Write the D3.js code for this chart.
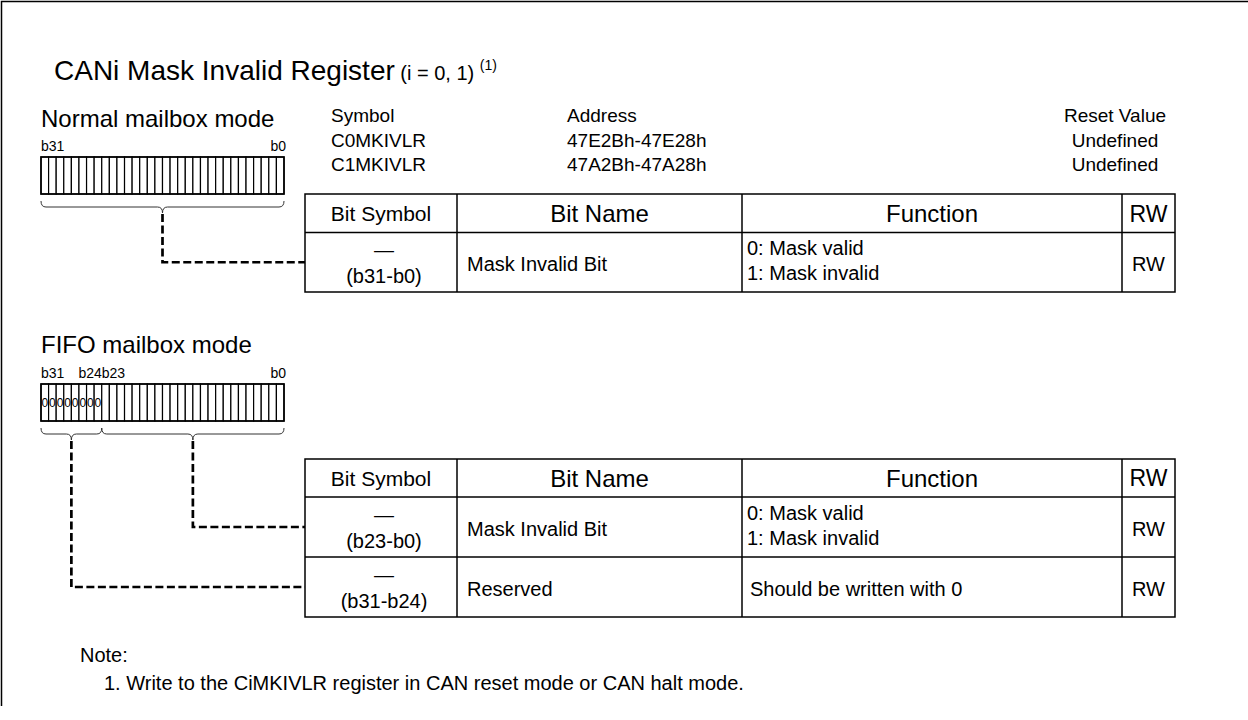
<!DOCTYPE html>
<html><head><meta charset="utf-8">
<script src="https://cdn.jsdelivr.net/npm/d3@7"></script>
<style>
html,body{margin:0;padding:0;background:#fff;}
svg text{font-family:"Liberation Sans",Arial,Helvetica,sans-serif;fill:#000;}
</style></head>
<body><svg id="c" width="1248" height="720"></svg>
<script>
// ---- data ----
const titleMain = "CANi Mask Invalid Register";
const titleSub = "(i = 0, 1)";
const titleNote = "(1)";
const infoHeaders = ["Symbol", "Address", "Reset Value"];
const registerSymbols = ["C0MKIVLR", "C1MKIVLR"];
const registerAddresses = ["47E2Bh-47E28h", "47A2Bh-47A28h"];
const resetValues = ["Undefined", "Undefined"];
const bitIndices = d3.range(31, -1, -1); // b31 .. b0
const reservedBits = d3.range(31, 23, -1); // b31 .. b24
const tableHeaders = ["Bit Symbol", "Bit Name", "Function", "RW"];
const normalRows = [
  {sym: "—", range: "(b31-b0)", name: "Mask Invalid Bit", func: ["0: Mask valid", "1: Mask invalid"], rw: "RW", hi: 31, lo: 0}
];
const fifoRows = [
  {sym: "—", range: "(b23-b0)", name: "Mask Invalid Bit", func: ["0: Mask valid", "1: Mask invalid"], rw: "RW", hi: 23, lo: 0},
  {sym: "—", range: "(b31-b24)", name: "Reserved", func: ["Should be written with 0"], rw: "RW", hi: 31, lo: 24}
];
const noteLines = ["Note:", "1. Write to the CiMKIVLR register in CAN reset mode or CAN halt mode."];

// ---- layout ----
const svg = d3.select("#c");

// frame
svg.append("path").attr("d","M1.5,706 L1.5,1.5 L1248,1.5").attr("fill","none").attr("stroke","#000").attr("stroke-width",1.5);

// title
const t = svg.append("text").attr("x",54).attr("y",80);
t.append("tspan").attr("font-size",28).text(titleMain);
t.append("tspan").attr("font-size",20).text(" " + titleSub + " ");
t.append("tspan").attr("font-size",14).attr("dy",-10).text(titleNote);

// info block
const infoX = d3.scaleOrdinal().domain(infoHeaders).range([331, 567, 1115]);
const infoY = d3.scaleLinear().domain([0, 2]).range([122, 171]);
infoHeaders.forEach((h, i) => {
  svg.append("text").attr("x", infoX(h)).attr("y", infoY(0)).attr("font-size",19)
    .attr("text-anchor", i === 2 ? "middle" : "start").text(h);
});
[registerSymbols, registerAddresses, resetValues].forEach((col, ci) => {
  col.forEach((v, r) => {
    svg.append("text").attr("x", infoX(infoHeaders[ci])).attr("y", infoY(r + 1)).attr("font-size",19)
      .attr("text-anchor", ci === 2 ? "middle" : "start").text(v);
  });
});

// bit box scale
const bitX = d3.scaleBand().domain(bitIndices).range([41, 284]);

function drawBitBox(label, yLabel, yBox, withReserved) {
  svg.append("text").attr("x",41).attr("y",yLabel).attr("font-size",24).text(label);
  const g = svg.append("g");
  const h = 37;
  g.selectAll("rect").data(bitIndices).join("rect")
    .attr("x", d => bitX(d)).attr("y", yBox).attr("width", bitX.bandwidth()).attr("height", h)
    .attr("fill","#fff").attr("stroke","#000").attr("stroke-width",1.2);
  g.append("rect").attr("x",bitX(31)).attr("y",yBox).attr("width",bitX(0)+bitX.bandwidth()-bitX(31)).attr("height",h)
    .attr("fill","none").attr("stroke","#000").attr("stroke-width",1.6);
  const yl = yBox - 6;
  g.append("text").attr("x",bitX(31)).attr("y",yl).attr("font-size",14).text("b31");
  g.append("text").attr("x",bitX(0)+bitX.bandwidth()+2).attr("y",yl).attr("font-size",14).attr("text-anchor","end").text("b0");
  if (withReserved) {
    g.append("text").attr("x",bitX(24)+bitX.bandwidth()).attr("y",yl).attr("font-size",14).attr("text-anchor","end").text("b24");
    g.append("text").attr("x",bitX(23)).attr("y",yl).attr("font-size",14).text("b23");
    g.selectAll("text.z").data(reservedBits).join("text").attr("class","z")
      .attr("x", d => bitX(d) + bitX.bandwidth()/2).attr("y", yBox + h/2 + 4.5)
      .attr("font-size",12).attr("text-anchor","middle").text("0");
  }
}

function brace(x0, x1, y) {
  const xc = (x0 + x1) / 2, r = 5, d = 6;
  const p = `M${x0},${y} Q${x0},${y+d} ${x0+r},${y+d} L${xc-r},${y+d} Q${xc},${y+d} ${xc},${y+2*d} Q${xc},${y+d} ${xc+r},${y+d} L${x1-r},${y+d} Q${x1},${y+d} ${x1},${y}`;
  svg.append("path").attr("d",p).attr("fill","none").attr("stroke","#333").attr("stroke-width",1);
  return {x: xc, y: y + 2*d};
}

function dashed(x, y0, y1, x1) {
  svg.append("path").attr("d",`M${x},${y0} L${x},${y1} L${x1},${y1}`)
    .attr("fill","none").attr("stroke","#000").attr("stroke-width",2.7).attr("stroke-dasharray","8,3.5");
}

// table
const colX = d3.scaleOrdinal().domain(tableHeaders).range([305, 457, 742, 1122]);
const tableRight = 1175;
const colW = h => { const i = tableHeaders.indexOf(h); return (i < 3 ? colX(tableHeaders[i+1]) : tableRight) - colX(h); };
const headerSize = {"Bit Symbol": 21, "Bit Name": 24, "Function": 24, "RW": 23};
const BODY = 20;

function drawTable(rows, yTop, headH, rowH) {
  const yRow = d3.scaleLinear().domain([0, rows.length]).range([yTop + headH, yTop + headH + rows.length*rowH]);
  const g = svg.append("g");
  const yBot = yRow(rows.length);
  g.append("rect").attr("x",colX(tableHeaders[0])).attr("y",yTop).attr("width",tableRight-colX(tableHeaders[0])).attr("height",yBot-yTop)
    .attr("fill","none").attr("stroke","#000").attr("stroke-width",1.5);
  tableHeaders.slice(1).forEach(h => g.append("line").attr("x1",colX(h)).attr("x2",colX(h)).attr("y1",yTop).attr("y2",yBot).attr("stroke","#000").attr("stroke-width",1.5));
  d3.range(rows.length).forEach(i => g.append("line").attr("x1",colX(tableHeaders[0])).attr("x2",tableRight).attr("y1",yRow(i)).attr("y2",yRow(i)).attr("stroke","#000").attr("stroke-width",1.5));
  tableHeaders.forEach(h => g.append("text").attr("x",colX(h)+colW(h)/2).attr("y",yTop+headH/2+headerSize[h]*0.36).attr("font-size",headerSize[h]).attr("text-anchor","middle").text(h));
  rows.forEach((r, i) => {
    const yc = (yRow(i) + yRow(i+1)) / 2;
    const cs = colX("Bit Symbol") + colW("Bit Symbol")/2 + 3;
    g.append("text").attr("x",cs).attr("y",yc-5).attr("font-size",BODY).attr("text-anchor","middle").text(r.sym);
    g.append("text").attr("x",cs).attr("y",yc+21).attr("font-size",BODY).attr("text-anchor","middle").text(r.range);
    g.append("text").attr("x",colX("Bit Name")+10).attr("y",yc+9).attr("font-size",BODY).text(r.name);
    if (r.func.length === 2) {
      g.append("text").attr("x",colX("Function")+5).attr("y",yc-7).attr("font-size",BODY).text(r.func[0]);
      g.append("text").attr("x",colX("Function")+5).attr("y",yc+18).attr("font-size",BODY).text(r.func[1]);
    } else {
      g.append("text").attr("x",colX("Function")+8).attr("y",yc+9).attr("font-size",BODY).text(r.func[0]);
    }
    g.append("text").attr("x",colX("RW")+colW("RW")/2).attr("y",yc+9).attr("font-size",BODY).attr("text-anchor","middle").text(r.rw);
  });
  return yRow;
}

// normal mode
drawBitBox("Normal mailbox mode", 127, 157, false);
const b1 = brace(bitX(31), bitX(0)+bitX.bandwidth(), 201);
const yR1 = drawTable(normalRows, 194, 38.5, 59.5);
dashed(b1.x, b1.y+1, (yR1(0)+yR1(1))/2, colX("Bit Symbol"));

// FIFO mode
drawBitBox("FIFO mailbox mode", 353, 384, true);
const bA = brace(bitX(31), bitX(24)+bitX.bandwidth(), 428);
const bB = brace(bitX(23), bitX(0)+bitX.bandwidth(), 428);
const yR2 = drawTable(fifoRows, 459, 38, 60);
dashed(bB.x, bB.y+1, (yR2(0)+yR2(1))/2, colX("Bit Symbol"));
dashed(bA.x, bA.y+1, (yR2(1)+yR2(2))/2, colX("Bit Symbol"));

// note
svg.append("text").attr("x",80).attr("y",662).attr("font-size",20).text(noteLines[0]);
svg.append("text").attr("x",104).attr("y",690).attr("font-size",20).text(noteLines[1]);
</script></body></html>
